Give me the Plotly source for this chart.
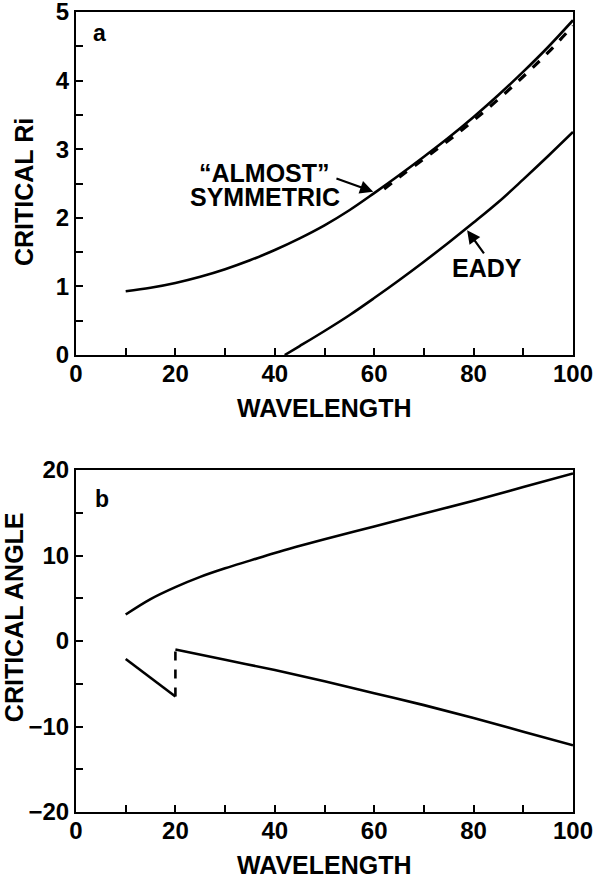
import plotly.graph_objects as go

# ---- data ----
wl_sym = [10, 15, 20, 25, 30, 35, 40, 45, 50, 55, 60, 65, 70, 75, 80, 85, 90, 95, 100]
ri_sym = [0.93, 0.98, 1.05, 1.14, 1.25, 1.38, 1.53, 1.70, 1.89, 2.11, 2.36, 2.62, 2.89, 3.17, 3.47, 3.79, 4.13, 4.49, 4.88]

wl_sym_dash = [62, 65, 70, 75, 80, 85, 90, 95, 100]
ri_sym_dash = [2.42, 2.59, 2.86, 3.13, 3.42, 3.73, 4.06, 4.41, 4.80]

wl_eady = [42, 45, 50, 55, 60, 65, 70, 75, 80, 85, 90, 95, 100]
ri_eady = [0.0, 0.13, 0.35, 0.58, 0.83, 1.09, 1.36, 1.64, 1.93, 2.23, 2.56, 2.90, 3.25]

wl_up = [10, 15, 20, 25, 30, 35, 40, 50, 60, 70, 80, 90, 100]
ang_up = [3.1, 4.9, 6.3, 7.5, 8.5, 9.4, 10.3, 11.9, 13.4, 14.9, 16.4, 18.0, 19.6]

wl_low1 = [10, 15, 20]
ang_low1 = [-2.1, -4.3, -6.5]

wl_jump = [20, 20]
ang_jump = [-6.5, -1.0]

wl_low2 = [20, 30, 40, 50, 60, 70, 80, 90, 100]
ang_low2 = [-1.0, -2.2, -3.4, -4.7, -6.1, -7.5, -9.0, -10.6, -12.2]

x_ticks = [0, 20, 40, 60, 80, 100]
ri_ticks = [0, 1, 2, 3, 4, 5]
ang_ticks = [-20, -10, 0, 10, 20]

FONT = "Liberation Sans, Arial, sans-serif"
LW = 2.6

fig = go.Figure()

def line(x, y, xa, ya, dash="solid", w=LW, shape="spline"):
    fig.add_trace(go.Scatter(x=x, y=y, xaxis=xa, yaxis=ya, mode="lines",
                             line=dict(color="black", width=w, dash=dash, shape=shape),
                             showlegend=False, hoverinfo="skip"))

line(wl_sym, ri_sym, "x", "y")
line(wl_sym_dash, ri_sym_dash, "x", "y", dash="dash", w=3.2)
line(wl_eady, ri_eady, "x", "y")
line(wl_up, ang_up, "x2", "y2")
line(wl_low1, ang_low1, "x2", "y2", shape="linear")
line(wl_jump, ang_jump, "x2", "y2", dash="dash", shape="linear")
line(wl_low2, ang_low2, "x2", "y2")

tickfont = dict(family=FONT, size=24, color="black", weight=700)

def xax(anchor):
    return dict(anchor=anchor, domain=[0, 1], range=[0, 100], tickvals=x_ticks,
                ticktext=[str(v) for v in x_ticks], automargin=False,
                ticks="inside", ticklen=7, tickwidth=1.5, tickcolor="black",
                ticklabelstandoff=-4, ticklabeloverflow="allow",
                minor=dict(tickvals=[10, 30, 50, 70, 90], ticks="inside", ticklen=7,
                           tickwidth=1.5, tickcolor="black"),
                showline=True, linecolor="black", linewidth=2, mirror=True,
                showgrid=False, zeroline=False, tickfont=tickfont)

def yax(anchor, domain, rng, tv, minor_tv):
    return dict(anchor=anchor, domain=domain, range=rng, tickvals=tv, automargin=False,
                ticks="inside", ticklen=7, tickwidth=1.5, tickcolor="black",
                ticklabeloverflow="allow",
                minor=dict(tickvals=minor_tv, ticks="inside", ticklen=7,
                           tickwidth=1.5, tickcolor="black"),
                showline=True, linecolor="black", linewidth=2, mirror=True,
                showgrid=False, zeroline=False, tickfont=tickfont)

fig.update_layout(
    width=603, height=880,
    margin=dict(l=76, r=30, t=12, b=68, autoexpand=False),
    paper_bgcolor="white", plot_bgcolor="white",
    xaxis=xax("y"),
    xaxis2=xax("y2"),
    yaxis=yax("x", [0.57125, 1], [0, 5], ri_ticks, [0.5, 1.5, 2.5, 3.5, 4.5]),
    yaxis2=yax("x2", [0, 0.4275], [-20, 20], ang_ticks, [-15, -5, 5, 15]),
)

tf = dict(family=FONT, size=25, color="black", weight=700)
ann = []
# axis titles
ann.append(dict(text="WAVELENGTH", xref="paper", yref="paper", x=0.5, y=0.505,
                showarrow=False, font=tf, xanchor="center", yanchor="middle"))
ann.append(dict(text="WAVELENGTH", xref="paper", yref="paper", x=0.5, y=-0.066,
                showarrow=False, font=tf, xanchor="center", yanchor="middle"))
ann.append(dict(text="CRITICAL Ri", xref="paper", yref="paper", x=-0.1046, y=0.775,
                showarrow=False, font=tf, textangle=-90, xanchor="center", yanchor="middle"))
ann.append(dict(text="CRITICAL ANGLE", xref="paper", yref="paper", x=-0.126, y=0.244,
                showarrow=False, font=tf, textangle=-90, xanchor="center", yanchor="middle"))
# panel labels
ann.append(dict(text="a", xref="x", yref="y", x=4.8, y=4.69, showarrow=False,
                font=dict(family=FONT, size=23, color="black", weight=700)))
ann.append(dict(text="b", xref="x2", yref="y2", x=5.2, y=16.6, showarrow=False,
                font=dict(family=FONT, size=23, color="black", weight=700)))
# curve labels
ann.append(dict(text="\u201cALMOST\u201d", xref="x", yref="y", x=38.0, y=2.66, showarrow=False, font=tf))
ann.append(dict(text="SYMMETRIC", xref="x", yref="y", x=38.0, y=2.30, showarrow=False, font=tf))
ann.append(dict(text="EADY", xref="x", yref="y", x=82.7, y=1.27, showarrow=False, font=tf))
# arrows
ann.append(dict(text="", xref="x", yref="y", x=59.8, y=2.38, axref="x", ayref="y",
                ax=52.1, ay=2.58, showarrow=True, arrowhead=2, arrowsize=1.2,
                arrowwidth=2.2, arrowcolor="black"))
ann.append(dict(text="", xref="x", yref="y", x=78.7, y=1.82, axref="x", ayref="y",
                ax=82.3, ay=1.46, showarrow=True, arrowhead=2, arrowsize=1.2,
                arrowwidth=2.2, arrowcolor="black"))
fig.update_layout(annotations=ann)

fig.write_html("out.html")
